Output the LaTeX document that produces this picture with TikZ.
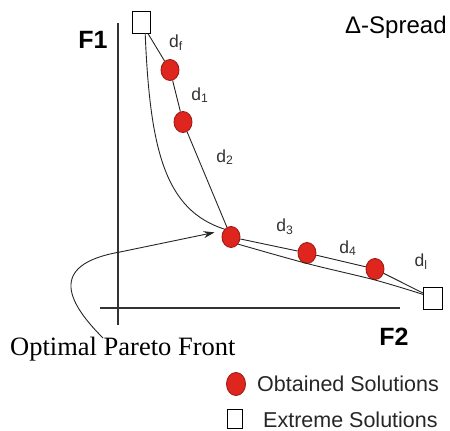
\documentclass[tikz,border=0pt]{standalone}
\usepackage{fontspec}
\setmainfont{Liberation Sans}
\newfontfamily\serifont{Liberation Serif}
\usetikzlibrary{arrows.meta,calc,shapes.geometric}
\definecolor{solred}{RGB}{222,38,30}
\definecolor{solrim}{RGB}{165,25,20}
\tikzset{
  sol/.style={ellipse,draw=solrim,line width=0.9pt,fill=solred,minimum width=18pt,minimum height=21pt,inner sep=0pt},
  ext/.style={rectangle,draw=black,line width=1pt,fill=white,minimum width=18pt,minimum height=22pt,inner sep=0pt},
  lnk/.style={draw=black!85,line width=0.9pt},
  axis/.style={draw=black!80,line width=1.1pt},
  dlab/.style={font=\fontsize{17.5}{19}\selectfont,text=black!80,inner sep=0pt},
  axlab/.style={font=\fontsize{25}{28}\selectfont\bfseries,inner sep=0pt},
}
\begin{document}
\begin{tikzpicture}[x=1pt,y=-1pt]
\useasboundingbox (0,0) rectangle (450,431);
% axes
\coordinate (ytop) at (118,23);
\coordinate (ybot) at (118,325);
\coordinate (xl) at (100,308);
\coordinate (xr) at (400,308);
\draw[axis] (ytop) -- (ybot);
\draw[axis] (xl) -- (xr);
% nodes
\node[ext] (s1) at (141,22) {};
\node[ext,minimum width=19pt] (s2) at (433,298) {};
\node[sol] (c1) at (170,70) {};
\node[sol] (c2) at (183,122) {};
\node[sol] (c3) at (231,237) {};
\node[sol] (c4) at (307,253) {};
\node[sol] (c5) at (375,269) {};
% connectors
\draw[lnk] (s1) -- (c1) -- (c2) -- (c3) -- (c4) -- (c5) -- (s2);
\draw[lnk] (s1.290) .. controls (150,150) and (165,210) .. (c3.130);
\draw[lnk] plot[smooth,tension=0.5] coordinates {(c3.-45) (307,263.5) (375,280) (s2.160)};
% labels
\node[dlab] (ldf) at (176,43) {d\textsubscript{f}};
\node[dlab] (ld1) at (200,95) {d\textsubscript{1}};
\node[dlab] (ld2) at (225,157) {d\textsubscript{2}};
\node[dlab] (ld3) at (285,227) {d\textsubscript{3}};
\node[dlab] (ld4) at (348,248) {d\textsubscript{4}};
\node[dlab] (ldl) at (421,262) {d\textsubscript{l}};
\node[axlab] (f1) at (93,40) {F1};
\node[axlab] (f2) at (394,337) {F2};
\node[font=\fontsize{24}{26}\selectfont,anchor=base west,inner sep=0pt] (spread) at (345,33) {Δ-Spread};
% optimal pareto front label and arrow
\node[font=\serifont\fontsize{26.5}{28}\selectfont,anchor=base west,inner sep=0pt] (opf) at (10,355) {Optimal Pareto Front};
\coordinate (opfstart) at (103,338);
\coordinate (bend) at (120,252);
\coordinate (tip) at ($(c3.140)!9pt!(bend)$);
\draw[lnk,-{Stealth[length=11pt,width=7pt]}] (opfstart) .. controls (70,305) and (45,265) .. (bend) -- (tip);
% legend
\node[sol,minimum width=19pt,minimum height=23pt] (lc) at (236,384) {};
\node[ext,minimum width=15pt,minimum height=19pt] (ls) at (235,419) {};
\node[font=\fontsize{21.5}{24}\selectfont,anchor=base west,inner sep=0pt,text=black!85] (lt1) at (257,391) {Obtained Solutions};
\node[font=\fontsize{21.5}{24}\selectfont,anchor=base west,inner sep=0pt,text=black!85] (lt2) at (263,427) {Extreme Solutions};
\end{tikzpicture}
\end{document}
